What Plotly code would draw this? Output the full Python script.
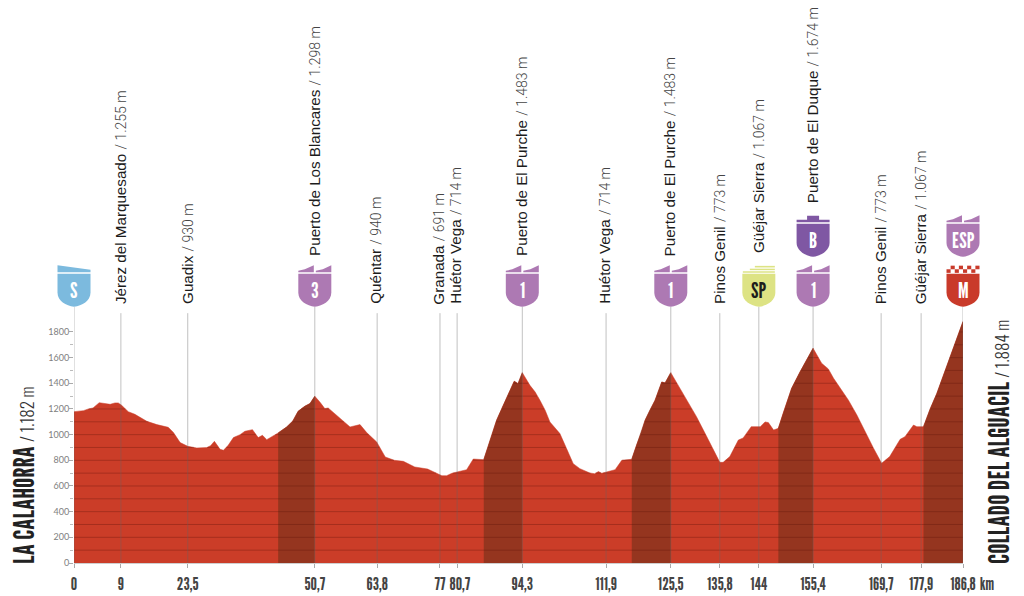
import numpy as np
import plotly.graph_objects as go

# profile
profile_km = [0, 2, 3, 4, 5.3, 6.5, 7.6, 8.6, 9.3, 10, 11.4, 12.8, 15.3, 17.4, 19.8, 20.9, 22.3, 23.9, 25.8, 27.9,
              28.7, 29.5, 30.7, 31.4, 32.4, 33.5, 34.9, 35.9, 37.5, 38.7, 39.6, 40.5, 42.9, 44.7, 46, 47.1, 48.5,
              49.6, 50.6, 51.7, 52.7, 53.4, 54.5, 55.9, 58, 60.1, 61.5, 63.6, 65.4, 67.3, 69.2, 71.6, 74.3, 77.3,
              78.3, 79.4, 82.5, 83.9, 86.1, 87.1, 88.1, 88.8, 89.9, 90.9, 92, 92.5, 93.3, 94.2, 95.8, 96.9, 97.9,
              99, 100, 101.1, 102.1, 103.5, 104.9, 106.3, 108.4, 109.4, 110.2, 110.9, 113.7, 115.1, 117.2, 118.2,
              119.3, 120, 121, 122.1, 123.5, 124.2, 125.4, 127.3, 129.1, 130.8, 132.6, 134.3, 135.7, 136.4,
              137.8, 139.6, 140.6, 142.3, 144.2, 145.2, 145.9, 147, 148, 149, 150.8, 152.6, 154, 155.3, 157.1,
              158.5, 159.6, 161, 162.7, 164.5, 166.2, 168, 169.7, 171.4, 173.6, 174.6, 176.4, 177.1, 178.5, 179.9,
              181.3, 182.7, 184.1, 185.5, 186.8]
profile_elevation = [1179, 1187, 1200, 1208, 1249, 1244, 1236, 1247, 1247, 1229, 1179, 1158, 1104, 1078, 1057, 1016,
                     938, 909, 896, 899, 914, 948, 886, 878, 917, 977, 1000, 1026, 1039, 977, 995, 961, 1013, 1060,
                     1107, 1182, 1221, 1242, 1299, 1252, 1203, 1208, 1171, 1125, 1060, 1078, 1016, 943, 826, 800,
                     792, 748, 732, 680, 680, 699, 727, 810, 805, 917, 1034, 1112, 1203, 1281, 1371, 1416, 1397, 1483,
                     1384, 1332, 1268, 1190, 1099, 1047, 1008, 891, 774, 735, 701, 696, 712, 699, 727, 800, 808, 917,
                     1021, 1112, 1190, 1268, 1410, 1403, 1483, 1366, 1244, 1140, 1010, 880, 784, 784, 829,
                     958, 974, 1062, 1062, 1099, 1094, 1036, 1049, 1166, 1361, 1491, 1582, 1673, 1556,
                     1512, 1439, 1361, 1270, 1153, 1023, 894, 777, 829, 964, 984, 1075, 1062, 1062, 1200,
                     1320, 1465, 1613, 1751, 1881]

climb_start = [42.9, 86.1, 117.2, 148, 178.5]
climb_end = [50.6, 94.2, 125.4, 155.3, 186.8]

tick_km = [0, 9.85, 23.9, 50.6, 63.7, 76.9, 80.5, 94.2, 111.8, 125.4, 135.7, 143.9, 155.3, 169.6, 178, 186.8]
tick_labels = ['0', '9', '23,5', '50,7', '63,8', '77', '\u00a0\u00a080,7', '94,3', '111,9', '125,5', '135,8', '144',
               '155,4', '169,7', '177,9', '186,8']

place_km = [9.85, 23.9, 50.6, 63.7, 76.9, 80.5, 94.2, 111.8, 125.4, 135.7, 143.9, 155.3, 169.6, 178]
place_names = ['Jérez del Marquesado', 'Guadix', 'Puerto de Los Blancares', 'Quéntar', 'Granada', 'Huétor Vega',
               'Puerto de El Purche', 'Huétor Vega', 'Puerto de El Purche', 'Pinos Genil', 'Güéjar Sierra',
               'Puerto de El Duque', 'Pinos Genil', 'Güéjar Sierra']
place_heights = ['1.255 m', '930 m', '1.298 m', '940 m', '691 m', '714 m', '1.483 m', '714 m', '1.483 m', '773 m',
                 '1.067 m', '1.674 m', '773 m', '1.067 m']
place_bottom_px = [306, 306, 258, 306, 306, 306, 258, 306, 258, 306, 255, 205, 306, 306]

badge_km = [0, 50.6, 94.2, 125.4, 143.9, 155.3, 155.3, 186.8, 186.8]
badge_text = ['S', '3', '1', '1', 'SP', '1', 'B', 'M', 'ESP']
badge_kind = ['start', 'climb', 'climb', 'climb', 'sprint', 'climb', 'bonus', 'finish', 'climb']
badge_tip_px = [306.7, 306.7, 306.7, 306.7, 306.7, 306.7, 256.7, 306.7, 256.7]

badge_colors = {'start': '#7cbade', 'climb': '#ad79b3', 'sprint': '#dde384', 'bonus': '#7f57a3', 'finish': '#c93a2a'}

RED = '#cb3d28'
DARK = '#95351f'
BASE_PX = 562.7
M_PER_PX = 1 / 0.1283
Y_TOP = BASE_PX * M_PER_PX
KM_MAX = 186.8
GOTHIC = '"League Gothic", Oswald, Roboto, sans-serif'
LIGHT = 'font-family:Oswald,Roboto;font-weight:300;font-size:17px;color:#333333'


def px_to_m(py):
    return (BASE_PX - py) * M_PER_PX


def poly(points):
    return 'M ' + ' L '.join(f'{x} {y}' for x, y in points) + ' Z'


def badge_paths(kind):
    # pixels relative to the bottom tip of the shield, y going up
    body = 'M -16.5 33 L 16.5 33 L 16.5 14 C 16.5 6 8 1 0 0 C -8 1 -16.5 6 -16.5 14 Z'
    paths = [body]
    if kind == 'climb':
        paths.append(poly([(-16.5, 34.5), (-1, 34.5), (-1, 41.5), (-10, 37.5), (-16.5, 36)]))
        paths.append(poly([(1, 34.5), (16.5, 34.5), (16.5, 41.5), (8, 37.5), (1, 36)]))
    elif kind == 'start':
        paths.append(poly([(-16.5, 34.5), (16.5, 34.5), (16.5, 37), (-16.5, 41.5)]))
    elif kind == 'bonus':
        paths.append(poly([(-16.5, 34.5), (16.5, 34.5), (16.5, 37), (6, 37), (6, 41), (-6, 41), (-6, 37), (-16.5, 37)]))
    elif kind == 'sprint':
        paths.append(poly([(-16, 34), (16, 34), (16, 35.5), (-16, 35.5)]))
        paths.append(poly([(-9, 36.7), (16, 36.7), (16, 38.2), (-9, 38.2)]))
        paths.append(poly([(-4, 39.4), (16, 39.4), (16, 41), (-4, 41)]))
    elif kind == 'finish':
        size = 33 / 8
        for row in range(2):
            for col in range(8):
                if (row + col) % 2 == 0:
                    x0 = -16.5 + col * size
                    y0 = 34 + row * 3.6
                    paths.append(poly([(x0, y0), (x0 + size, y0), (x0 + size, y0 + 3.6), (x0, y0 + 3.6)]))
    return paths


km = np.array(profile_km, dtype=float)
elev = np.array(profile_elevation, dtype=float)

fig = go.Figure()

fig.add_trace(go.Scatter(x=km, y=elev, mode='lines', fill='tozeroy', fillcolor=RED,
                         line=dict(color=RED, width=0.5), hoverinfo='skip'))

for start, end in zip(climb_start, climb_end):
    mask = (km >= start) & (km <= end)
    fig.add_trace(go.Scatter(x=km[mask], y=elev[mask], mode='lines', fill='tozeroy', fillcolor=DARK,
                             line=dict(color=DARK, width=0.5), hoverinfo='skip'))

# dark 100 m stripes, only inside the profile
fine = np.arange(0, 186.85, 0.1)
fine_elev = np.interp(fine, km, elev)
stripe_x, stripe_y = [], []
for level in range(100, 1900, 100):
    xs = np.where(fine_elev > level, fine, np.nan)
    stripe_x += list(xs) + [None]
    stripe_y += [level] * len(xs) + [None]
fig.add_trace(go.Scatter(x=stripe_x, y=stripe_y, mode='lines', connectgaps=False,
                         line=dict(color='rgba(90,20,10,0.32)', width=1), hoverinfo='skip'))

# vertical drop lines
line_x, line_y = [], []
for k in place_km:
    top = px_to_m(306.7 if k in badge_km else 313)
    line_x += [k, k, None]
    line_y += [0, top, None]
for k in [0, 186.8]:
    line_x += [k, k, None]
    line_y += [0, px_to_m(306.7), None]
fig.add_trace(go.Scatter(x=line_x, y=line_y, mode='lines', cliponaxis=False,
                         line=dict(color='rgba(100,100,100,0.4)', width=1), hoverinfo='skip'))

annotations = []
for k, name, height, bottom in zip(place_km, place_names, place_heights, place_bottom_px):
    annotations.append(dict(
        x=k, y=px_to_m(bottom), xref='x', yref='y', xanchor='center', yanchor='bottom', textangle=-90, xshift=-1,
        showarrow=False,
        text=f'{name} <span style="font-family:Roboto;font-weight:300;font-size:14px;color:#444444">/ {height}</span>',
        font=dict(family='Liberation Sans', size=15.2, color='#1c1c1c'),
    ))

shapes = []
for k, text, kind, tip in zip(badge_km, badge_text, badge_kind, badge_tip_px):
    for path in badge_paths(kind):
        # paper refs so the edge badges are not clipped by the plot area
        shapes.append(dict(type='path', path=path, xsizemode='pixel', ysizemode='pixel', xanchor=k / KM_MAX,
                           yanchor=(BASE_PX - tip) / BASE_PX, xref='paper', yref='paper',
                           fillcolor=badge_colors[kind], line=dict(width=0)))
    annotations.append(dict(
        x=k, y=px_to_m(tip - 17), xref='x', yref='y', xanchor='center', yanchor='middle', showarrow=False,
        text=text,
        font=dict(family=GOTHIC, size=22, color='#1d1d1b' if kind == 'sprint' else 'white'),
    ))

# start and finish names on both sides
annotations.append(dict(
    x=0, y=0, xref='x', yref='y', xanchor='center', yanchor='bottom', textangle=-90, xshift=-51, yshift=-3,
    showarrow=False, text=f'LA CALAHORRA <span style="{LIGHT}">/ 1.182 m</span>',
    font=dict(family=GOTHIC, size=28.5, color='#222222'),
))
annotations.append(dict(
    x=186.8, y=0, xref='x', yref='y', xanchor='center', yanchor='bottom', textangle=-90, xshift=35, yshift=-3,
    showarrow=False, text=f'COLLADO DEL ALGUACIL <span style="{LIGHT}">/ 1.884 m</span>',
    font=dict(family=GOTHIC, size=28.5, color='#222222'),
))
annotations.append(dict(
    x=186.8, y=0, xref='x', yref='y', xanchor='left', yanchor='top', xshift=15, yshift=-8, showarrow=False,
    text='km', font=dict(family=GOTHIC, size=18, color='#444444'),
))

fig.update_layout(
    width=1024, height=596,
    margin=dict(l=74, r=61, t=0, b=33.3, pad=0),
    paper_bgcolor='white', plot_bgcolor='white',
    showlegend=False,
    annotations=annotations,
    shapes=shapes,
    xaxis=dict(range=[0, KM_MAX], tickmode='array', tickvals=tick_km, ticktext=tick_labels, showgrid=False,
               zeroline=False, showline=True, linecolor='#cfcfcf', linewidth=1, ticks='outside', ticklen=4,
               tickcolor='#aaaaaa', tickangle=0,
               tickfont=dict(family=GOTHIC, size=18, color='#444444')),
    yaxis=dict(range=[0, Y_TOP], tickmode='array', tickvals=list(range(0, 2000, 200)), showgrid=False,
               zeroline=False, showline=False, ticks='outside', ticklen=4, tickcolor='#aaaaaa',
               ticklabelstandoff=-2,
               tickfont=dict(family='Lato', size=9, color='#808080'),
               minor=dict(tickmode='array', tickvals=list(range(100, 1900, 200)), ticks='outside', ticklen=3,
                          tickcolor='#bbbbbb')),
)

# the page's default body margin would push the chart 8 px off
fig.write_html("out.html", config={'displayModeBar': False}, post_script="document.body.style.margin='0';")
